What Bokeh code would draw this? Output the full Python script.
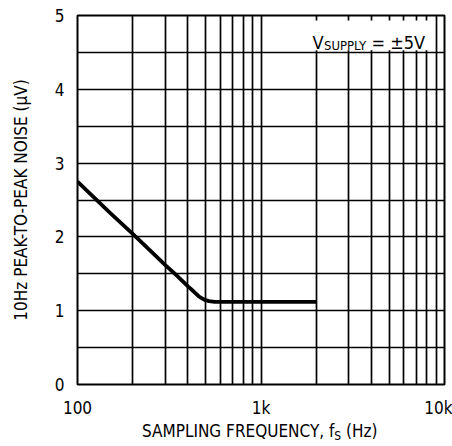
from bokeh.plotting import figure
from bokeh.models import FixedTicker, Label, BoxAnnotation, Div
from bokeh.layouts import column
from bokeh.embed import file_html
from bokeh.resources import INLINE

# ---- data ----
freq_hz = [100, 150, 200, 250, 300, 350, 400, 430, 460, 490, 520, 560, 700, 1000, 1500, 2000]
noise_uv = [2.75, 2.33, 2.04, 1.81, 1.62, 1.47, 1.33, 1.26, 1.19, 1.15, 1.13, 1.12, 1.12, 1.12, 1.12, 1.12]

x_major = [100, 1000, 10000]
x_minor = [200, 300, 400, 500, 600, 700, 800, 900, 2000, 3000, 4000, 5000, 6000, 7000, 8000, 9000]
x_labels = {100: "100", 1000: "1k", 10000: "10k"}
y_major = [0, 1, 2, 3, 4, 5]
y_minor = [0.5, 1.5, 2.5, 3.5, 4.5]

FONT = "DejaVu Sans Condensed"

W, H = 452, 420
ML, MR, MT, MB = 77, 8, 15, 34

p = figure(width=W, height=H, x_axis_type="log", x_range=(100, 10000), y_range=(0, 5),
           output_backend="svg", toolbar_location=None,
           min_border_left=ML, min_border_right=MR, min_border_top=MT, min_border_bottom=MB)

fw = W - ML - MR
fh = H - MT - MB


def dx(px):
    # canvas px -> data x (log)
    return 10 ** (2 + 2 * (px - ML) / fw)


def dy(py):
    return 5 * (H - MB - py) / fh


p.xaxis.ticker = FixedTicker(ticks=x_major, minor_ticks=x_minor)
p.yaxis.ticker = FixedTicker(ticks=y_major, minor_ticks=y_minor)
p.xaxis.major_label_overrides = x_labels

for ax in (p.xaxis[0], p.yaxis[0]):
    ax.axis_line_color = None
    ax.major_tick_line_color = None
    ax.minor_tick_line_color = None
    ax.major_tick_out = 0
    ax.minor_tick_out = 0
    ax.major_label_text_font = FONT
    ax.major_label_text_font_size = "17px"
    ax.major_label_text_color = "black"
p.xaxis.major_label_standoff = 13
p.yaxis.major_label_standoff = 13

p.yaxis.axis_label = "10Hz PEAK-TO-PEAK NOISE (\u03bcV)"
p.yaxis.axis_label_text_font = FONT
p.yaxis.axis_label_text_font_size = "17px"
p.yaxis.axis_label_text_font_style = "normal"
p.yaxis.axis_label_text_color = "black"
p.yaxis.axis_label_standoff = 21

for g in (p.xgrid[0], p.ygrid[0]):
    g.grid_line_color = "black"
    g.grid_line_width = 1.7
    g.grid_line_alpha = 1
    g.minor_grid_line_color = "black"
    g.minor_grid_line_width = 1.7
    g.minor_grid_line_alpha = 1

p.outline_line_color = "black"
p.outline_line_width = 2
p.background_fill_color = "white"
p.border_fill_color = "white"

p.line(freq_hz, noise_uv, line_color="black", line_width=3.8)

# white box behind the supply annotation
p.add_layout(BoxAnnotation(left=dx(263), right=dx(430), bottom=4.53, top=dy(20),
                           fill_color="white", fill_alpha=1, line_color=None))

# V_SUPPLY = ±5V
p.add_layout(Label(x=dx(323), y=dy(42), text="V", text_align="right", text_baseline="alphabetic",
                   text_font=FONT, text_font_size="18px", text_color="black"))
p.add_layout(Label(x=dx(323.5), y=dy(45), text="SUPPLY", text_align="left", text_baseline="alphabetic",
                   text_font=FONT, text_font_size="13px", text_color="black"))
p.add_layout(Label(x=dx(371), y=dy(42), text="= \u00b15V", text_align="left", text_baseline="alphabetic",
                   text_font=FONT, text_font_size="18px", text_color="black"))

# x axis label (with subscript) as real text below the plot
xlabel = Div(
    text=("<div style=\"margin-left:142px; padding-top:1px; white-space:nowrap; "
          "font-family:'DejaVu Sans Condensed'; font-size:17px; color:black; line-height:20px;\">"
          "SAMPLING FREQUENCY, f<sub style=\"font-size:12px; vertical-align:-3px;\">S</sub> (Hz)</div>"),
    width=W, height=26, margin=0)

layout = column(p, xlabel, spacing=0)

open("out.html", "w").write(file_html(layout, INLINE))
